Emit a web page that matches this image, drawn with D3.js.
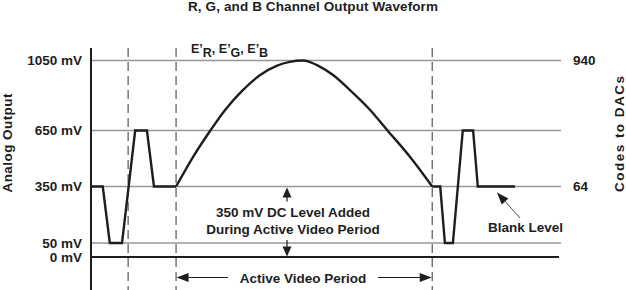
<!DOCTYPE html>
<html><head><meta charset="utf-8">
<script src="https://cdn.jsdelivr.net/npm/d3@7"></script>
<style>
body{margin:0;background:#fff}
svg{display:block}
text{font-family:"Liberation Sans",Arial,Helvetica,sans-serif;font-weight:bold;fill:#1e1e1e}
</style>
</head><body>
<svg id="c" width="626" height="290"></svg>
<script>
// ---- data ----
const levelMV = [0, 50, 350, 650, 1050];
const levelLabels = ["0 mV", "50 mV", "350 mV", "650 mV", "1050 mV"];
const codeMV = [350, 1050];
const codeLabels = ["64", "940"];
const markerT = [7.9, 18.1, 72.6];          // dashed timing markers
const pulse1T = [0, 2.5, 4.0, 6.6, 9.4, 11.9, 13.4, 18.1];
const pulse1MV = [350, 350, 50, 50, 650, 650, 350, 350];
const arcT = [18.1, 21.7, 25.4, 28.7, 32.3, 36.0, 39.6, 42.3, 45.1, 46.6, 48.3, 51.5, 55.1, 59.2, 63.1, 67.9, 72.6];
const arcMV = [350, 508, 650, 773, 881, 967, 1021, 1042, 1050, 1041, 1021, 967, 881, 773, 650, 508, 350];
const pulse2T = [72.6, 74.3, 75.3, 77.0, 79.1, 81.3, 82.3, 90.2];
const pulse2MV = [350, 350, 50, 50, 650, 650, 350, 350];

// ---- scales ----
const svg = d3.select("#c");
const x = d3.scaleLinear().domain([0, 100]).range([91, 561]);
const y = d3.scaleLinear().domain([0, 50, 350, 650, 1050]).range([257, 243, 186.5, 130.5, 60.5]);
const xEnd = 100;
const FS = "13.5px";

// title
svg.append("text").attr("x", 313).attr("y", 11).attr("text-anchor", "middle")
  .style("font-size", "13.5px").attr("textLength", 250).attr("lengthAdjust", "spacing")
  .text("R, G, and B Channel Output Waveform");

// grid lines
levelMV.forEach((v, i) => {
  svg.append("line").attr("x1", x(0)).attr("x2", x(xEnd) - (v === 0 ? 2 : 0))
    .attr("y1", y(v)).attr("y2", y(v))
    .attr("stroke", v === 0 ? "#1e1e1e" : "#969696")
    .attr("stroke-width", v === 0 ? 2 : 1.5);
  svg.append("text").attr("x", 82).attr("y", y(v)).attr("dy", "0.36em")
    .attr("text-anchor", "end").style("font-size", FS).text(levelLabels[i]);
});
codeMV.forEach((v, i) => {
  svg.append("text").attr("x", 573).attr("y", y(v)).attr("dy", "0.36em")
    .style("font-size", FS).text(codeLabels[i]);
});

// dashed markers
markerT.forEach(t => {
  svg.append("line").attr("x1", x(t)).attr("x2", x(t)).attr("y1", 48).attr("y2", 290)
    .attr("stroke", "#555").attr("stroke-width", 1.2).attr("stroke-dasharray", "9,5");
});

// left axis
svg.append("line").attr("x1", x(0)).attr("x2", x(0)).attr("y1", 48).attr("y2", 290)
  .attr("stroke", "#1e1e1e").attr("stroke-width", 2);

// waveform
const lineLin = d3.line().x(d => x(d[0])).y(d => y(d[1]));
const lineArc = d3.line().x(d => x(d[0])).y(d => y(d[1])).curve(d3.curveMonotoneX);
const wave = svg.append("g").attr("fill", "none").attr("stroke", "#1e1e1e")
  .attr("stroke-width", 2.4).attr("stroke-linejoin", "miter");
wave.append("path").attr("d", lineLin(pulse1T.map((t, i) => [t, pulse1MV[i]])));
wave.append("path").attr("d", lineArc(arcT.map((t, i) => [t, arcMV[i]])));
wave.append("path").attr("d", lineLin(pulse2T.map((t, i) => [t, pulse2MV[i]])));

// arrow helper
function head(tx, ty, ang, len, w) {
  const a = ang * Math.PI / 180;
  const bx = tx - len * Math.cos(a), by = ty - len * Math.sin(a);
  const px = -Math.sin(a) * w / 2, py = Math.cos(a) * w / 2;
  svg.append("path").attr("d", `M${tx},${ty}L${bx + px},${by + py}L${bx - px},${by - py}Z`)
    .attr("fill", "#1e1e1e");
}

// E'R, E'G, E'B label
const el = svg.append("text").attr("x", 191).attr("y", 53).style("font-size", "12.5px");
[["E’", "R"], ["E’", "G"], ["E’", "B"]].forEach((p, i) => {
  el.append("tspan").attr("dy", i === 0 ? 0 : -4).text((i ? ", " : "") + p[0]);
  el.append("tspan").attr("dy", 4).text(p[1]);
});

// axis titles
svg.append("text").attr("transform", "translate(12,143) rotate(-90)").attr("text-anchor", "middle")
  .style("font-size", "13.5px").attr("textLength", 99).attr("lengthAdjust", "spacing")
  .text("Analog Output");
svg.append("text").attr("transform", "translate(624,134) rotate(-90)").attr("text-anchor", "middle")
  .style("font-size", "13.5px").attr("textLength", 116).attr("lengthAdjust", "spacing")
  .text("Codes to DACs");

// DC level annotation
const ax = 287;
svg.append("line").attr("x1", ax).attr("x2", ax).attr("y1", y(350) + 8).attr("y2", y(350) + 15)
  .attr("stroke", "#1e1e1e").attr("stroke-width", 1.2);
head(ax, y(350) + 1, -90, 10, 9);
svg.append("line").attr("x1", ax).attr("x2", ax).attr("y1", y(0) - 17).attr("y2", y(0) - 8)
  .attr("stroke", "#1e1e1e").attr("stroke-width", 1.2);
head(ax, y(0) - 0.5, 90, 10, 9);
svg.append("text").attr("x", 293).attr("y", 217).attr("text-anchor", "middle")
  .style("font-size", FS).text("350 mV DC Level Added");
svg.append("text").attr("x", 293).attr("y", 233.5).attr("text-anchor", "middle")
  .style("font-size", FS).text("During Active Video Period");

// Active Video Period
const ay = 277.5;
svg.append("line").attr("x1", x(markerT[1]) + 4).attr("x2", 228).attr("y1", ay).attr("y2", ay)
  .attr("stroke", "#1e1e1e").attr("stroke-width", 1.2);
svg.append("line").attr("x1", 378).attr("x2", x(markerT[2]) - 4).attr("y1", ay).attr("y2", ay)
  .attr("stroke", "#1e1e1e").attr("stroke-width", 1.2);
head(x(markerT[1]) + 0.5, ay, 180, 12, 9);
head(x(markerT[2]) - 0.5, ay, 0, 12, 9);
svg.append("text").attr("x", 303).attr("y", 282.5).attr("text-anchor", "middle")
  .style("font-size", FS).text("Active Video Period");

// Blank level
svg.append("line").attr("x1", 520).attr("x2", 502).attr("y1", 218).attr("y2", 198)
  .attr("stroke", "#1e1e1e").attr("stroke-width", 0.8);
head(497, 192.5, Math.atan2(192.5 - 218, 497 - 520) * 180 / Math.PI, 12, 9);
svg.append("text").attr("x", 488).attr("y", 232).style("font-size", FS).text("Blank Level");
</script>
</body></html>
